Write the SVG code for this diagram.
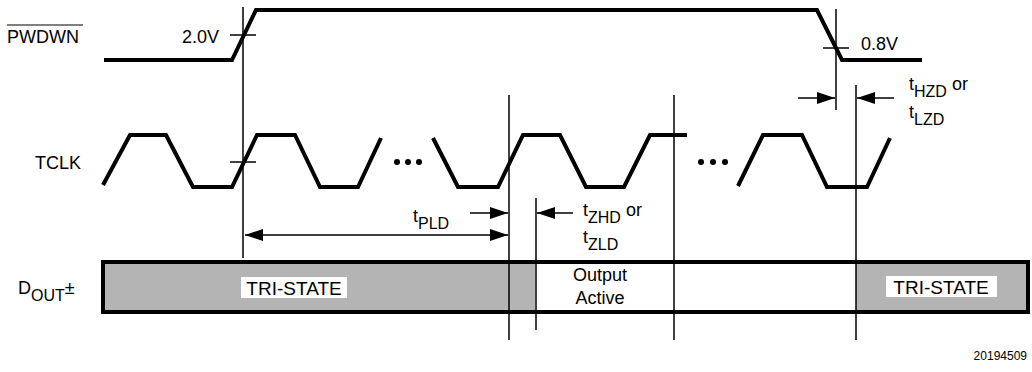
<svg xmlns="http://www.w3.org/2000/svg" width="1032" height="372" viewBox="0 0 1032 372">
<style>
.lbl{font-family:"Liberation Sans",Arial,sans-serif;font-size:18px;fill:#000}
.sub{font-size:16px}
.ts{font-family:"Liberation Sans",Arial,sans-serif;font-size:19px;fill:#000;text-anchor:middle}
.wave{fill:none;stroke:#000;stroke-width:4;stroke-linejoin:miter}
.ref{fill:none;stroke:#000;stroke-width:1.5}
.arr{fill:none;stroke:#000;stroke-width:1.5}
.dot{fill:#000}
</style>
<defs>
<marker id="ah" viewBox="0 0 18 12" refX="18" refY="6" markerWidth="18" markerHeight="12" markerUnits="userSpaceOnUse" orient="auto-start-reverse">
<path d="M0,0 L18,6 L0,12 Z" fill="#000"/>
</marker>
</defs>
<rect width="1032" height="372" fill="#fff"/>

<g id="pwdwn">
<text class="lbl" x="7" y="43">PWDWN</text>
<line x1="7" y1="25" x2="83" y2="25" stroke="#000" stroke-width="1"/>
<path class="wave" d="M104,60 L232,60 L256,10 L817,10 L842,60 L922,60"/>
<text class="lbl" x="182" y="43">2.0V</text>
<line class="ref" x1="230" y1="35" x2="256" y2="35"/>
<text class="lbl" x="861" y="50">0.8V</text>
<line class="ref" x1="823" y1="48" x2="849" y2="48"/>
</g>

<g id="tclk">
<text class="lbl" x="35" y="169">TCLK</text>
<path class="wave" d="M103,185 L130,135 L166,135 L193,187 L232,187 L257,135 L295,135 L320,187 L358,187 L381,138"/>
<circle class="dot" cx="397" cy="162" r="3"/>
<circle class="dot" cx="408" cy="162" r="3"/>
<circle class="dot" cx="419" cy="162" r="3"/>
<path class="wave" d="M433,138 L458,187 L498,187 L523,135 L560,135 L586,187 L624,187 L650,135 L687,135"/>
<circle class="dot" cx="701" cy="162" r="3"/>
<circle class="dot" cx="713" cy="162" r="3"/>
<circle class="dot" cx="725" cy="162" r="3"/>
<path class="wave" d="M738,186 L763,135 L802,135 L827,187 L867,187 L890,138"/>
<line class="ref" x1="230" y1="162" x2="256" y2="162"/>
</g>

<g id="dout">
<text class="lbl" x="18" y="294">D<tspan class="sub" dy="7">OUT</tspan><tspan dy="-7">±</tspan></text>
<rect x="103" y="262" width="925" height="50" fill="#b4b4b4"/>
<rect x="535" y="262" width="321" height="50" fill="#fff"/>
<rect x="103" y="262" width="925" height="50" fill="none" stroke="#000" stroke-width="4"/>
<rect x="241" y="277" width="106" height="21" fill="#fff"/>
<text class="ts" x="294" y="295">TRI-STATE</text>
<rect x="886" y="276" width="111" height="21" fill="#fff"/>
<text class="ts" x="941" y="294">TRI-STATE</text>
<text class="lbl" x="600" y="281" text-anchor="middle">Output</text>
<text class="lbl" x="600" y="304" text-anchor="middle">Active</text>
</g>

<g id="connectors">
<line class="ref" x1="243" y1="7" x2="243" y2="258"/>
<line class="ref" x1="509" y1="95" x2="509" y2="340"/>
<line class="ref" x1="536" y1="198" x2="536" y2="330"/>
<line class="ref" x1="674" y1="95" x2="674" y2="340"/>
<line class="ref" x1="836" y1="9" x2="836" y2="110"/>
<line class="ref" x1="856" y1="85" x2="856" y2="340"/>
<line class="arr" x1="245" y1="235" x2="508" y2="235" marker-start="url(#ah)" marker-end="url(#ah)"/>
<line class="arr" x1="470" y1="213" x2="508" y2="213" marker-end="url(#ah)"/>
<line class="arr" x1="573" y1="213" x2="537" y2="213" marker-end="url(#ah)"/>
<line class="arr" x1="798" y1="98" x2="835" y2="98" marker-end="url(#ah)"/>
<line class="arr" x1="894" y1="98" x2="857" y2="98" marker-end="url(#ah)"/>
</g>

<g id="timing-labels">
<text class="lbl" x="413" y="222">t<tspan class="sub" dy="7">PLD</tspan></text>
<text class="lbl" x="583" y="216">t<tspan class="sub" dy="7">ZHD</tspan><tspan dy="-7"> or</tspan></text>
<text class="lbl" x="583" y="243">t<tspan class="sub" dy="7">ZLD</tspan></text>
<text class="lbl" x="909" y="90">t<tspan class="sub" dy="7">HZD</tspan><tspan dy="-7"> or</tspan></text>
<text class="lbl" x="909" y="118">t<tspan class="sub" dy="7">LZD</tspan></text>
</g>

<text x="1027" y="360" font-family="Liberation Sans, Arial, sans-serif" font-size="12" text-anchor="end">20194509</text>
</svg>
